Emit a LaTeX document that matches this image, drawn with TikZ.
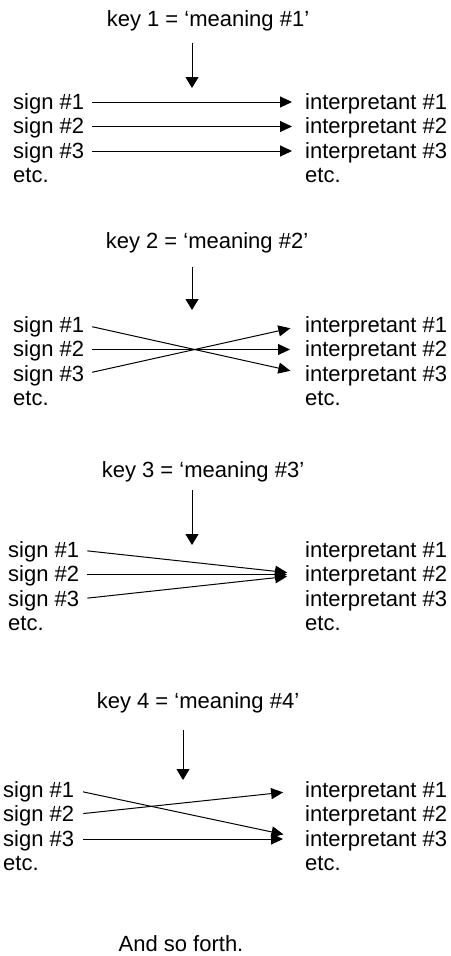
\documentclass[tikz,border=0pt]{standalone}
\usepackage{fontspec}
\setmainfont{Liberation Sans}
\usetikzlibrary{arrows.meta}

\tikzset{
  txt/.style={inner sep=0pt, font=\fontsize{22}{26}\selectfont},
  lbl/.style={txt, anchor=west, text height=14pt, text depth=0pt},
  link/.style={-{Triangle[length=12pt,width=11pt]}, line width=1pt},
  keyarrow/.style={-{Triangle[length=11pt,width=13pt]}, line width=1pt},
}

\begin{document}
\begin{tikzpicture}[x=1pt,y=-1pt]
  \useasboundingbox (0,0) rectangle (450,956);

  % Schluessel 1: jedes Zeichen auf seinen eigenen Interpretanten
  \node[txt,anchor=base] (key1) at (208,26) {key 1 = ‘meaning \#1’};
  \coordinate (k1a) at (192,43);
  \coordinate (k1b) at (192,88);
  \draw[keyarrow] (k1a) -- (k1b);
  \foreach \n/\y in {1/102,2/126.5,3/151}{
    \node[lbl] (a\n) at (13,\y) {sign \#\n};
    \node[lbl] (ai\n) at (305,\y) {interpretant \#\n};
  }
  \node[lbl] (aetc) at (13,175.5) {etc.};
  \node[lbl] (aietc) at (305,175.5) {etc.};
  \draw[link,shorten <=8pt,shorten >=13pt] (a1.east) -- (ai1.west);
  \draw[link,shorten <=8pt,shorten >=13pt] (a2.east) -- (ai2.west);
  \draw[link,shorten <=8pt,shorten >=13pt] (a3.east) -- (ai3.west);

  % Schluessel 2: Zeichen 1 und 3 vertauscht
  \node[txt,anchor=base] (key2) at (207,248) {key 2 = ‘meaning \#2’};
  \coordinate (k2a) at (192,267);
  \coordinate (k2b) at (192,310);
  \draw[keyarrow] (k2a) -- (k2b);
  \foreach \n/\y in {1/325,2/349.5,3/374}{
    \node[lbl] (b\n) at (13,\y) {sign \#\n};
    \node[lbl] (bi\n) at (305,\y) {interpretant \#\n};
  }
  \node[lbl] (betc) at (13,398.5) {etc.};
  \node[lbl] (bietc) at (305,398.5) {etc.};
  \draw[link,shorten <=8pt,shorten >=15pt] (b1.east) -- (bi3.west);
  \draw[link,shorten <=8pt,shorten >=15pt] (b2.east) -- (bi2.west);
  \draw[link,shorten <=8pt,shorten >=15pt] (b3.east) -- (bi1.west);

  % Schluessel 3: alle Zeichen auf Interpretant 2
  \node[txt,anchor=base] (key3) at (203,477) {key 3 = ‘meaning \#3’};
  \coordinate (k3a) at (192,490);
  \coordinate (k3b) at (192,545);
  \draw[keyarrow] (k3a) -- (k3b);
  \foreach \n/\y in {1/550,2/574.5,3/599}{
    \node[lbl] (c\n) at (8,\y) {sign \#\n};
    \node[lbl] (ci\n) at (305,\y) {interpretant \#\n};
  }
  \node[lbl] (cetc) at (8,623.5) {etc.};
  \node[lbl] (cietc) at (305,623.5) {etc.};
  \draw[link,shorten <=8pt,shorten >=18pt] (c1.east) -- (ci2.west);
  \draw[link,shorten <=8pt,shorten >=18pt] (c2.east) -- (ci2.west);
  \draw[link,shorten <=8pt,shorten >=18pt] (c3.east) -- (ci2.west);

  % Schluessel 4: Zeichen 1 und 3 auf Interpretant 3, Zeichen 2 auf 1
  \node[txt,anchor=base] (key4) at (198,708) {key 4 = ‘meaning \#4’};
  \coordinate (k4a) at (183,730);
  \coordinate (k4b) at (183,780);
  \draw[keyarrow] (k4a) -- (k4b);
  \foreach \n/\y in {1/790,2/814.5,3/839}{
    \node[lbl] (d\n) at (3,\y) {sign \#\n};
    \node[lbl] (di\n) at (305,\y) {interpretant \#\n};
  }
  \node[lbl] (detc) at (3,863.5) {etc.};
  \node[lbl] (dietc) at (305,863.5) {etc.};
  \draw[link,shorten <=9pt,shorten >=22pt] (d1.east) -- (di3.west);
  \draw[link,shorten <=9pt,shorten >=22pt] (d2.east) -- (di1.west);
  \draw[link,shorten <=9pt,shorten >=22pt] (d3.east) -- (di3.west);

  \node[txt,anchor=base] (forth) at (181,951) {And so forth.};
\end{tikzpicture}
\end{document}
